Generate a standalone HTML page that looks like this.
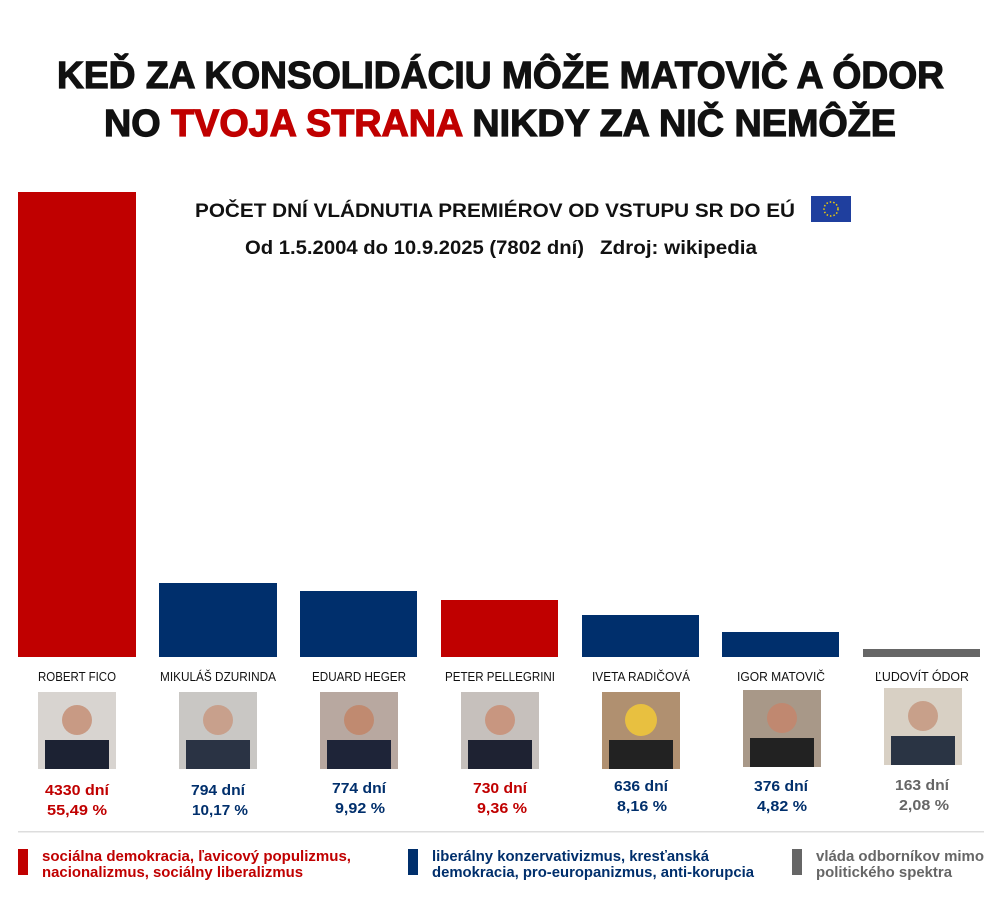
<!DOCTYPE html>
<html><head><meta charset="utf-8"><style>
body{margin:0;background:#fff}
svg{display:block;font-family:"Liberation Sans",sans-serif}
</style></head><body>
<svg width="1000" height="902" viewBox="0 0 1000 902">
<rect width="1000" height="902" fill="#fff"/>
<g font-weight="bold" font-size="38" stroke-width="1.2">
<text x="57" y="88" textLength="887" lengthAdjust="spacingAndGlyphs" fill="#111" stroke="#111">KEĎ ZA KONSOLIDÁCIU MÔŽE MATOVIČ A ÓDOR</text>
<text x="104" y="136" textLength="792" lengthAdjust="spacingAndGlyphs" fill="#111" stroke="#111">NO <tspan fill="#c00000" stroke="#c00000">TVOJA STRANA</tspan> NIKDY ZA NIČ NEMÔŽE</text>
</g>
<g font-weight="bold" font-size="19" fill="#111">
<text x="195" y="217" textLength="600" lengthAdjust="spacingAndGlyphs">POČET DNÍ VLÁDNUTIA PREMIÉROV OD VSTUPU SR DO EÚ</text>
<text x="245" y="254" textLength="339" lengthAdjust="spacingAndGlyphs">Od 1.5.2004 do 10.9.2025 (7802 dní)</text>
<text x="600" y="254" textLength="157" lengthAdjust="spacingAndGlyphs">Zdroj: wikipedia</text>
</g>
<rect x="811" y="196" width="40" height="26" fill="#1f3f9e"/>
<circle cx="831" cy="209" r="7" fill="none" stroke="#f5d000" stroke-width="1.5" stroke-dasharray="1.5 2"/>
<g>
<rect x="18" y="192" width="118" height="465" fill="#c00000"/>
<rect x="159" y="583" width="118" height="74" fill="#002f6c"/>
<rect x="300" y="591" width="117" height="66" fill="#002f6c"/>
<rect x="441" y="600" width="117" height="57" fill="#c00000"/>
<rect x="582" y="615" width="117" height="42" fill="#002f6c"/>
<rect x="722" y="632" width="117" height="25" fill="#002f6c"/>
<rect x="863" y="649" width="117" height="8" fill="#666"/>
</g>
<g font-size="13" fill="#111" text-anchor="middle">
<text x="77" y="681" textLength="78" lengthAdjust="spacingAndGlyphs">ROBERT FICO</text>
<text x="218" y="681" textLength="116" lengthAdjust="spacingAndGlyphs">MIKULÁŠ DZURINDA</text>
<text x="359" y="681" textLength="94" lengthAdjust="spacingAndGlyphs">EDUARD HEGER</text>
<text x="500" y="681" textLength="110" lengthAdjust="spacingAndGlyphs">PETER PELLEGRINI</text>
<text x="641" y="681" textLength="98" lengthAdjust="spacingAndGlyphs">IVETA RADIČOVÁ</text>
<text x="781" y="681" textLength="88" lengthAdjust="spacingAndGlyphs">IGOR MATOVIČ</text>
<text x="922" y="681" textLength="94" lengthAdjust="spacingAndGlyphs">ĽUDOVÍT ÓDOR</text>
</g>
<g>
<rect x="38" y="692" width="78" height="77" fill="#d8d4d0"/><rect x="45" y="740" width="64" height="29" fill="#1c2233"/><circle cx="77" cy="720" r="15" fill="#c89a84"/>
<rect x="179" y="692" width="78" height="77" fill="#c9c7c4"/><rect x="186" y="740" width="64" height="29" fill="#2a3344"/><circle cx="218" cy="720" r="15" fill="#c8a08c"/>
<rect x="320" y="692" width="78" height="77" fill="#b8a8a0"/><rect x="327" y="740" width="64" height="29" fill="#1e2438"/><circle cx="359" cy="720" r="15" fill="#c08a70"/>
<rect x="461" y="692" width="78" height="77" fill="#c6c0bc"/><rect x="468" y="740" width="64" height="29" fill="#1e2232"/><circle cx="500" cy="720" r="15" fill="#c89680"/>
<rect x="602" y="692" width="78" height="77" fill="#b09070"/><rect x="609" y="740" width="64" height="29" fill="#222"/><circle cx="641" cy="720" r="16" fill="#e8c040"/>
<rect x="743" y="690" width="78" height="77" fill="#a89888"/><rect x="750" y="738" width="64" height="29" fill="#222"/><circle cx="782" cy="718" r="15" fill="#c08870"/>
<rect x="884" y="688" width="78" height="77" fill="#d8d0c4"/><rect x="891" y="736" width="64" height="29" fill="#2a3444"/><circle cx="923" cy="716" r="15" fill="#c8a08a"/>
</g>
<g font-size="15" font-weight="bold" text-anchor="middle">
<text x="77" y="795" fill="#c00000" textLength="64" lengthAdjust="spacingAndGlyphs">4330 dní</text>
<text x="77" y="815" fill="#c00000" textLength="60" lengthAdjust="spacingAndGlyphs">55,49 %</text>
<text x="218" y="795" fill="#002f6c" textLength="54" lengthAdjust="spacingAndGlyphs">794 dní</text>
<text x="220" y="815" fill="#002f6c" textLength="56" lengthAdjust="spacingAndGlyphs">10,17 %</text>
<text x="359" y="793" fill="#002f6c" textLength="54" lengthAdjust="spacingAndGlyphs">774 dní</text>
<text x="360" y="813" fill="#002f6c" textLength="50" lengthAdjust="spacingAndGlyphs">9,92 %</text>
<text x="500" y="793" fill="#c00000" textLength="54" lengthAdjust="spacingAndGlyphs">730 dní</text>
<text x="502" y="813" fill="#c00000" textLength="50" lengthAdjust="spacingAndGlyphs">9,36 %</text>
<text x="641" y="791" fill="#002f6c" textLength="54" lengthAdjust="spacingAndGlyphs">636 dní</text>
<text x="642" y="811" fill="#002f6c" textLength="50" lengthAdjust="spacingAndGlyphs">8,16 %</text>
<text x="781" y="791" fill="#002f6c" textLength="54" lengthAdjust="spacingAndGlyphs">376 dní</text>
<text x="782" y="811" fill="#002f6c" textLength="50" lengthAdjust="spacingAndGlyphs">4,82 %</text>
<text x="922" y="790" fill="#666" textLength="54" lengthAdjust="spacingAndGlyphs">163 dní</text>
<text x="924" y="810" fill="#666" textLength="50" lengthAdjust="spacingAndGlyphs">2,08 %</text>
</g>
<rect x="18" y="831" width="966" height="1.5" fill="#ddd"/>
<rect x="18" y="849" width="10" height="26" fill="#c00000"/>
<rect x="408" y="849" width="10" height="26" fill="#002f6c"/>
<rect x="792" y="849" width="10" height="26" fill="#666"/>
<g font-size="15" font-weight="bold">
<text x="42" y="861" fill="#c00000" textLength="309" lengthAdjust="spacingAndGlyphs">sociálna demokracia, ľavicový populizmus,</text>
<text x="42" y="877" fill="#c00000" textLength="261" lengthAdjust="spacingAndGlyphs">nacionalizmus, sociálny liberalizmus</text>
<text x="432" y="861" fill="#002f6c" textLength="277" lengthAdjust="spacingAndGlyphs">liberálny konzervativizmus, kresťanská</text>
<text x="432" y="877" fill="#002f6c" textLength="322" lengthAdjust="spacingAndGlyphs">demokracia, pro-europanizmus, anti-korupcia</text>
<text x="816" y="861" fill="#666" textLength="168" lengthAdjust="spacingAndGlyphs">vláda odborníkov mimo</text>
<text x="816" y="877" fill="#666" textLength="136" lengthAdjust="spacingAndGlyphs">politického spektra</text>
</g>
</svg>
</body></html>
